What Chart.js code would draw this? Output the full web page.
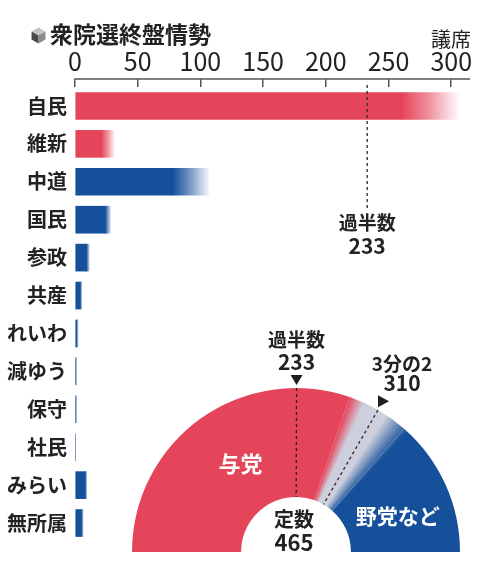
<!DOCTYPE html>
<html lang="ja">
<head>
<meta charset="utf-8">
<script src="https://cdn.jsdelivr.net/npm/chart.js@4.4.1/dist/chart.umd.min.js"></script>
<style>
  html, body { margin: 0; padding: 0; background: #fff; }
  #wrap { position: relative; width: 480px; height: 562px; overflow: hidden; }
  #bars { position: absolute; left: 0; top: 0; }
  #seats { position: absolute; left: 120px; top: 320px; }
</style>
</head>
<body>
<div id="wrap">
  <canvas id="bars" width="480" height="562"></canvas>
  <canvas id="seats" width="352" height="242"></canvas>
</div>
<script>
// seat projections (solid = low end, faded part = up to high end)
const parties  = ['自民', '維新', '中道', '国民', '参政', '共産', 'れいわ', '減ゆう', '保守', '社民', 'みらい', '無所属'];
const seatLow  = [261, 21, 78, 24, 9, 4, 1, 0, 0, 0, 8, 5];
const seatHigh = [307, 32, 108, 29, 12, 6, 3, 2, 2, 0, 10, 7];
const bloc     = ['与党', '与党', '野党', '野党', '野党', '野党', '野党', '野党', '野党', '野党', '野党', '野党'];
const xTicks   = [0, 50, 100, 150, 200, 250, 300];
const axisMax  = 315;

const totalSeats = 465;
const majority   = 233;
const twoThirds  = 310;

// ruling bloc range for the half circle
const rulingLow  = seatLow.reduce((s, v, i) => s + (bloc[i] === '与党' ? v : 0), 0);
const rulingHigh = seatHigh.reduce((s, v, i) => s + (bloc[i] === '与党' ? v : 0), 0);
const houseLabels = ['与党', '', '野党など'];
const houseParts  = [rulingLow, rulingHigh - rulingLow, totalSeats - rulingHigh];

const RED = '#E5455B';
const BLUE = '#16509B';
const GREY = '#CDCFDC';
const INK = '#222';
const JP = '"Noto Sans CJK JP", "Noto Sans", sans-serif';

function rgba(hex, a) {
  const n = parseInt(hex.slice(1), 16);
  return `rgba(${n >> 16}, ${(n >> 8) & 255}, ${n & 255}, ${a})`;
}
const colorOf = i => bloc[i] === '与党' ? RED : BLUE;

function fadeFill(ctx) {
  const chart = ctx.chart;
  const i = ctx.dataIndex;
  const col = colorOf(i);
  if (!chart.chartArea) return col;
  const x = chart.scales.x;
  const x0 = x.getPixelForValue(seatLow[i]);
  const x1 = x.getPixelForValue(seatHigh[i]);
  if (x1 - x0 < 0.5) return col;
  const g = chart.ctx.createLinearGradient(x0, 0, x1, 0);
  g.addColorStop(0, rgba(col, 1));
  g.addColorStop(0.45, rgba(col, 0.6));
  g.addColorStop(1, rgba(col, 0));
  return g;
}

const barDecor = {
  id: 'barDecor',
  afterDraw(chart) {
    const c = chart.ctx;
    const xs = chart.scales.x;
    const area = chart.chartArea;
    c.save();

    // little cube + title
    const cx = 38.5, cy = 35.5, s = 8;
    const k = s * 0.87;
    c.fillStyle = '#c4c4c4';
    c.beginPath(); c.moveTo(cx, cy - s); c.lineTo(cx + k, cy - s / 2); c.lineTo(cx, cy); c.lineTo(cx - k, cy - s / 2); c.closePath(); c.fill();
    c.fillStyle = '#4a4a4a';
    c.beginPath(); c.moveTo(cx - k, cy - s / 2); c.lineTo(cx, cy); c.lineTo(cx, cy + s); c.lineTo(cx - k, cy + s / 2); c.closePath(); c.fill();
    c.fillStyle = '#8a8a8a';
    c.beginPath(); c.moveTo(cx + k, cy - s / 2); c.lineTo(cx, cy); c.lineTo(cx, cy + s); c.lineTo(cx + k, cy + s / 2); c.closePath(); c.fill();

    c.fillStyle = INK;
    c.textBaseline = 'middle';
    c.textAlign = 'left';
    c.font = `bold 23px ${JP}`;
    c.fillText('衆院選終盤情勢', 50, 34);

    c.font = `20px ${JP}`;
    c.textAlign = 'center';
    c.fillText('議席', 451, 39);

    // axis line sitting on top of the tick marks
    const ay = xs.bottom - 8;
    c.strokeStyle = '#555';
    c.lineWidth = 1.5;
    c.beginPath();
    c.moveTo(xs.getPixelForValue(0) - 0.75, ay);
    c.lineTo(area.right, ay);
    c.stroke();

    // majority line
    const mx = xs.getPixelForValue(majority);
    c.strokeStyle = '#2a2a2a';
    c.lineWidth = 1.3;
    c.setLineDash([3, 3]);
    c.beginPath();
    c.moveTo(mx, ay + 6);
    c.lineTo(mx, 208);
    c.stroke();
    c.setLineDash([]);

    c.fillStyle = INK;
    c.font = `bold 19px ${JP}`;
    c.fillText('過半数', mx, 223);
    c.font = `bold 21px ${JP}`;
    c.fillText(String(majority), mx, 246);
    c.restore();
  }
};

new Chart(document.getElementById('bars'), {
  type: 'bar',
  data: {
    labels: parties,
    datasets: [
      { label: '下限', data: seatLow, grouped: false, barThickness: 27,
        backgroundColor: ctx => colorOf(ctx.dataIndex) },
      { label: '上限', data: parties.map((p, i) => [seatLow[i], seatHigh[i]]), grouped: false, barThickness: 27,
        backgroundColor: fadeFill }
    ]
  },
  options: {
    indexAxis: 'y',
    responsive: false,
    animation: false,
    layout: { padding: { left: 0, right: 10, top: 0, bottom: 3 } },
    plugins: { legend: { display: false }, tooltip: { enabled: false } },
    scales: {
      x: {
        position: 'top',
        min: 0,
        max: axisMax,
        afterFit: s => { s.height = 87; },
        afterBuildTicks: s => { s.ticks = xTicks.map(v => ({ value: v })); },
        grid: { drawOnChartArea: false, drawTicks: true, tickLength: 8, color: '#555', lineWidth: 1.5 },
        border: { display: false },
        ticks: { font: { family: JP, size: 25 }, color: INK, padding: 3, maxRotation: 0, autoSkip: false }
      },
      y: {
        afterFit: s => { s.width = 75; },
        grid: { display: false, drawTicks: false },
        border: { display: false },
        ticks: { font: { family: JP, size: 20, weight: 'bold' }, color: INK, padding: 8, autoSkip: false }
      }
    }
  },
  plugins: [barDecor]
});

function houseFill(ctx) {
  const chart = ctx.chart;
  const a = chart.chartArea;
  if (!a) return GREY;
  const ctrl = chart.getDatasetMeta(0).controller;
  const cx = (a.left + a.right) / 2 + (ctrl.offsetX || 0);
  const cy = (a.top + a.bottom) / 2 + (ctrl.offsetY || 0);
  const span = rulingHigh - rulingLow;
  const f = v => v / totalSeats / 2;
  const g = chart.ctx.createConicGradient(Math.PI, cx, cy);
  g.addColorStop(0, RED);
  g.addColorStop(f(rulingLow), RED);
  g.addColorStop(f(rulingLow + span * 0.25), GREY);
  g.addColorStop(f(rulingLow + span * 0.65), GREY);
  g.addColorStop(f(rulingHigh + 4), BLUE);
  g.addColorStop(0.5, BLUE);
  g.addColorStop(1, BLUE);
  return g;
}

const houseDecor = {
  id: 'houseDecor',
  afterDraw(chart) {
    const c = chart.ctx;
    const arcs = chart.getDatasetMeta(0).data;
    const first = arcs[0];
    const cx = first.x, cy = first.y, R = first.outerRadius, r = first.innerRadius;
    const ang = v => Math.PI + v / totalSeats * Math.PI;
    const pt = (v, rad) => [cx + Math.cos(ang(v)) * rad, cy + Math.sin(ang(v)) * rad];
    c.save();

    // dashed threshold lines through the ring
    c.strokeStyle = 'rgba(30,20,25,0.9)';
    c.lineWidth = 1.3;
    c.setLineDash([3, 3]);
    [majority, twoThirds].forEach(v => {
      const [x0, y0] = pt(v, R);
      const [x1, y1] = pt(v, r);
      c.beginPath(); c.moveTo(x0, y0); c.lineTo(x1, y1); c.stroke();
    });
    c.setLineDash([]);

    // markers
    c.fillStyle = '#1e1e1e';
    const [mx, my] = pt(majority, R + 2);
    c.beginPath(); c.moveTo(mx - 6, my - 11); c.lineTo(mx + 6, my - 11); c.lineTo(mx, my - 1); c.closePath(); c.fill();
    const [tx, ty] = pt(twoThirds, R + 10);
    c.beginPath(); c.moveTo(tx - 5, ty - 6); c.lineTo(tx - 5, ty + 6); c.lineTo(tx + 6, ty); c.closePath(); c.fill();

    c.textAlign = 'center';
    c.textBaseline = 'middle';
    c.fillStyle = INK;
    c.font = `bold 19px ${JP}`;
    c.fillText('過半数', mx, cy - R - 48);
    c.font = `bold 21px ${JP}`;
    c.fillText(String(majority), mx, cy - R - 26);
    c.font = `bold 19px ${JP}`;
    c.fillText('3分の2', tx + 19, ty - 38);
    c.font = `bold 21px ${JP}`;
    c.fillText(String(twoThirds), tx + 19, ty - 18);

    // segment labels
    c.fillStyle = '#fff';
    c.font = `bold 22px ${JP}`;
    const p0 = arcs[0].getCenterPoint();
    c.fillText(houseLabels[0], p0.x + 8, p0.y + 1);
    const p2 = arcs[2].getCenterPoint();
    c.font = `bold 21px ${JP}`;
    c.fillText(houseLabels[2], p2.x + 2, p2.y + 9);

    c.fillStyle = INK;
    c.font = `bold 20px ${JP}`;
    c.fillText('定数', cx - 2, cy - 33);
    c.font = `bold 22px ${JP}`;
    c.fillText(String(totalSeats), cx - 2, cy - 9);
    c.restore();
  }
};

new Chart(document.getElementById('seats'), {
  type: 'doughnut',
  data: {
    labels: houseLabels,
    datasets: [{ data: houseParts, backgroundColor: houseFill, borderWidth: 0 }]
  },
  options: {
    responsive: false,
    animation: false,
    rotation: -90,
    circumference: 180,
    cutout: '33.5%',
    layout: { padding: { left: 12, right: 12, top: 68, bottom: 10 } },
    plugins: { legend: { display: false }, tooltip: { enabled: false } }
  },
  plugins: [houseDecor]
});
</script>
</body>
</html>
